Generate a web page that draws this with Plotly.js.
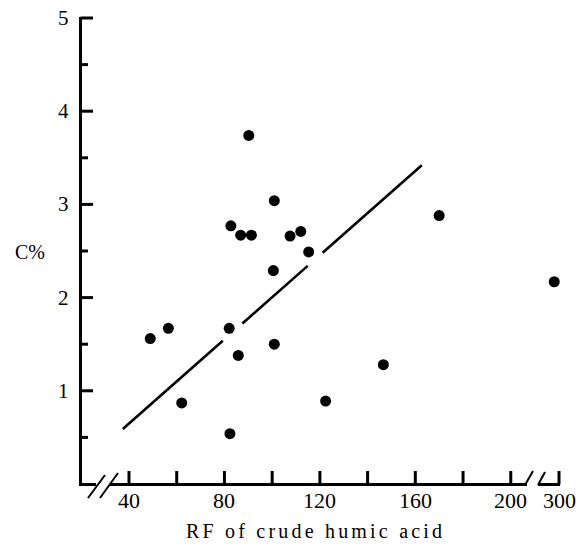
<!DOCTYPE html>
<html>
<head>
<meta charset="utf-8">
<script src="https://cdn.plot.ly/plotly-3.0.1.min.js"></script>
<style>html,body{margin:0;padding:0;background:#fff;}</style>
</head>
<body>
<div id="chart" style="width:588px;height:550px;"></div>
<script>
// RF of crude humic acid (x) vs C% (y)
const rfValues = [48.9, 56.5, 62.1, 82.0, 82.3, 82.7, 86.8, 91.3, 90.2, 85.8,
                  100.9, 100.5, 100.9, 107.5, 112.0, 115.3, 122.4, 146.6, 170.0, 298];
const cPercent = [1.56, 1.67, 0.87, 1.67, 0.54, 2.77, 2.67, 2.67, 3.74, 1.38,
                  3.04, 2.29, 1.50, 2.66, 2.71, 2.49, 0.89, 1.28, 2.88, 2.17];
// fitted line end points
const lineRF = [37.4, 162.7];
const lineC = [0.59, 3.42];
// tick values and labels
const xTickValues = [40, 60, 80, 100, 120, 140, 160, 180, 200, 300];
const xTickLabels = ['40', '', '80', '', '120', '', '160', '', '200', '300'];
const yTickValues = [1, 2, 3, 4, 5];
const yTickLabels = ['1', '2', '3', '4', '5'];
const yMinorValues = [0.5, 1.5, 2.5, 3.5, 4.5];

// ---- scales: the plot area fills the whole figure; axes are drawn by hand ----
const W = 588, H = 550;
const PX_PER_X = 2.386, PX_PER_Y = 93.2;
const X_AT_PX0 = 40 - 129 / PX_PER_X;           // x value at the left edge
const Y_AT_PX0 = 484 / PX_PER_Y;                // y value at the top edge
const XL = X_AT_PX0, XR = X_AT_PX0 + W / PX_PER_X;
const YT = Y_AT_PX0, YB = Y_AT_PX0 - H / PX_PER_Y;
function px2x(p) { return X_AT_PX0 + p / PX_PER_X; }
function px2y(p) { return Y_AT_PX0 - p / PX_PER_Y; }
function x2px(v) { return (v - X_AT_PX0) * PX_PER_X; }
function y2px(v) { return (Y_AT_PX0 - v) * PX_PER_Y; }

// broken axis: values beyond the break sit just after 200
const BREAK_END = px2x(559);
function xpos(v) { return v <= 210 ? v : v - 300 + BREAK_END; }

const serif = "'Liberation Serif', 'Times New Roman', serif";

// ---- axis decoration (lines, ticks, breaks) built from the tick arrays ----
const thickX = [], thickY = [], thinX = [], thinY = [];
function seg(arrX, arrY, xa, ya, xb, yb) { arrX.push(xa, xb, null); arrY.push(ya, yb, null); }
const AX = px2x(80.5), AY = px2y(484.5);
seg(thickX, thickY, AX, px2y(486), AX, px2y(17));                 // y axis
yTickValues.forEach(v => seg(thickX, thickY, AX, v, px2x(93), v)); // major y ticks
yMinorValues.forEach(v => seg(thickX, thickY, AX, v, px2x(88), v)); // minor y ticks
seg(thickX, thickY, AX, AY, px2x(96), AY);                          // x axis pieces
seg(thickX, thickY, px2x(110), AY, px2x(527), AY);
seg(thickX, thickY, px2x(538), AY, px2x(560), AY);
xTickValues.forEach(v => seg(thickX, thickY, xpos(v), AY, xpos(v), px2y(471))); // x ticks
seg(thinX, thinY, px2x(88), px2y(498), px2x(105), px2y(475));      // break slashes
seg(thinX, thinY, px2x(100), px2y(498), px2x(118), px2y(473));
seg(thinX, thinY, px2x(525), px2y(485), px2x(533), px2y(471));
seg(thinX, thinY, px2x(538), px2y(485), px2x(545), px2y(472));

// ---- fitted line, interrupted where it passes close to a point ----
const GAP_R = 14; // px
const p0 = [x2px(lineRF[0]), y2px(lineC[0])], p1 = [x2px(lineRF[1]), y2px(lineC[1])];
const d = [p1[0] - p0[0], p1[1] - p0[1]];
const dd = d[0] * d[0] + d[1] * d[1];
let gaps = [];
rfValues.forEach((rf, i) => {
  const c = [x2px(xpos(rf)), y2px(cPercent[i])];
  const f = [p0[0] - c[0], p0[1] - c[1]];
  const b = 2 * (f[0] * d[0] + f[1] * d[1]);
  const cc = f[0] * f[0] + f[1] * f[1] - GAP_R * GAP_R;
  const disc = b * b - 4 * dd * cc;
  if (disc > 0) {
    const t1 = (-b - Math.sqrt(disc)) / (2 * dd), t2 = (-b + Math.sqrt(disc)) / (2 * dd);
    if (t2 > 0 && t1 < 1) gaps.push([Math.max(0, t1), Math.min(1, t2)]);
  }
});
gaps.sort((a, b) => a[0] - b[0]);
const lineX = [], lineY = [];
let t = 0;
function lp(tt) { return [lineRF[0] + tt * (lineRF[1] - lineRF[0]), lineC[0] + tt * (lineC[1] - lineC[0])]; }
gaps.forEach(g => {
  if (g[0] > t) { const a = lp(t), b = lp(g[0]); lineX.push(a[0], b[0], null); lineY.push(a[1], b[1], null); }
  t = Math.max(t, g[1]);
});
if (t < 1) { const a = lp(t), b = lp(1); lineX.push(a[0], b[0]); lineY.push(a[1], b[1]); }

const traces = [
  {x: thickX, y: thickY, mode: 'lines', type: 'scatter', line: {color: '#000', width: 3}, hoverinfo: 'skip', connectgaps: false},
  {x: thinX, y: thinY, mode: 'lines', type: 'scatter', line: {color: '#000', width: 2}, hoverinfo: 'skip', connectgaps: false},
  {x: lineX, y: lineY, mode: 'lines', type: 'scatter', line: {color: '#000', width: 2.6}, hoverinfo: 'skip', connectgaps: false},
  {x: rfValues.map(xpos), y: cPercent, mode: 'markers', type: 'scatter',
   marker: {color: '#000', size: 11, line: {width: 0}}}
];

// ---- tick labels and titles as text ----
const annotations = [];
xTickValues.forEach((v, i) => {
  if (xTickLabels[i]) annotations.push({text: xTickLabels[i], xref: 'x', yref: 'y', x: xpos(v), y: px2y(500),
    xanchor: 'center', yanchor: 'middle', showarrow: false, font: {family: serif, size: 22, color: '#000'}});
});
yTickValues.forEach((v, i) => {
  annotations.push({text: yTickLabels[i], xref: 'x', yref: 'y', x: px2x(71), y: v,
    xanchor: 'right', yanchor: 'middle', showarrow: false, font: {family: serif, size: 21, color: '#000'}});
});
annotations.push({text: 'C%', xref: 'x', yref: 'y', x: px2x(30), y: px2y(252),
  xanchor: 'center', yanchor: 'middle', showarrow: false, font: {family: serif, size: 20, color: '#000'}});
annotations.push({text: '<span style="letter-spacing:3.2px;font-family:Liberation Serif,serif">RF of crude humic acid</span>',
  xref: 'x', yref: 'y', x: px2x(315), y: px2y(531),
  xanchor: 'center', yanchor: 'middle', showarrow: false, font: {family: serif, size: 20, color: '#000'}});

const layout = {
  width: W, height: H, autosize: false,
  margin: {l: 0, r: 0, t: 0, b: 0, pad: 0},
  paper_bgcolor: '#fff', plot_bgcolor: '#fff',
  showlegend: false,
  font: {family: serif, color: '#000'},
  xaxis: {visible: false, range: [XL, XR], fixedrange: true},
  yaxis: {visible: false, range: [YB, YT], fixedrange: true},
  annotations: annotations
};

Plotly.newPlot('chart', traces, layout, {staticPlot: true, displayModeBar: false});
</script>
</body>
</html>
